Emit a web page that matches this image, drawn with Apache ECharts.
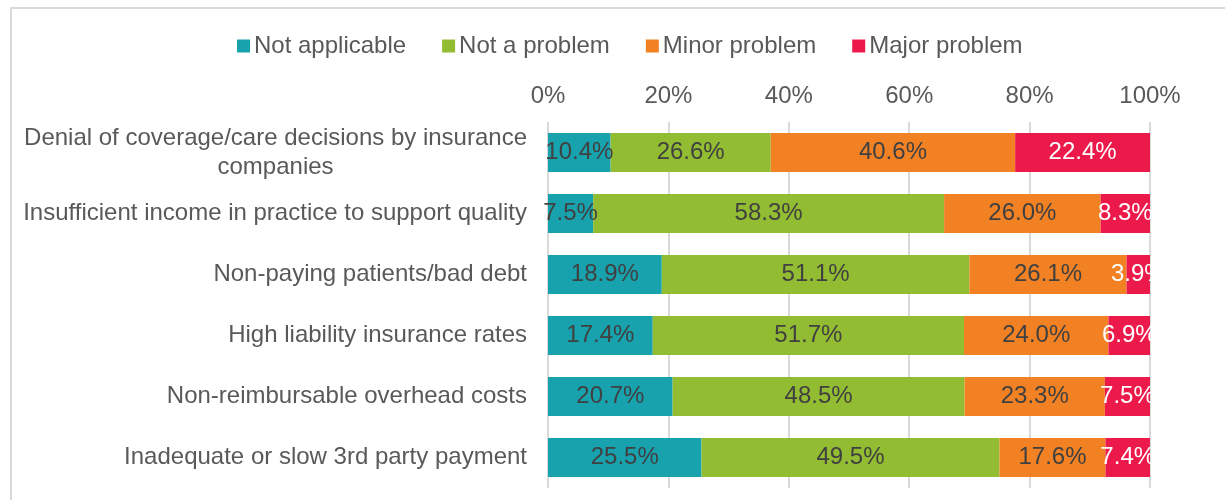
<!DOCTYPE html>
<html>
<head>
<meta charset="utf-8">
<script src="https://cdn.jsdelivr.net/npm/echarts@6/dist/echarts.min.js"></script>
<style>
html,body{margin:0;padding:0;background:#fff;}
#chart{width:1225px;height:500px;}
</style>
</head>
<body>
<div id="chart"></div>
<script>
const categories = [
  "Denial of coverage/care decisions by insurance\ncompanies",
  "Insufficient income in practice to support quality",
  "Non-paying patients/bad debt",
  "High liability insurance rates",
  "Non-reimbursable overhead costs",
  "Inadequate or slow 3rd party payment"
];
const seriesNames = ["Not applicable", "Not a problem", "Minor problem", "Major problem"];
const notApplicable = [10.4, 7.5, 18.9, 17.4, 20.7, 25.5];
const notAProblem   = [26.6, 58.3, 51.1, 51.7, 48.5, 49.5];
const minorProblem  = [40.6, 26.0, 26.1, 24.0, 23.3, 17.6];
const majorProblem  = [22.4, 8.3, 3.9, 6.9, 7.5, 7.4];
const xTicks = [0, 20, 40, 60, 80, 100];

const colors = ["#17A2AE", "#92BC31", "#F28123", "#EC1A4B"];
const labelColors = ["#404040", "#404040", "#404040", "#FFFFFF"];
const font = "'Liberation Sans', Arial, sans-serif";
const allData = [notApplicable, notAProblem, minorProblem, majorProblem];

const chart = echarts.init(document.getElementById('chart'));
chart.setOption({
  animation: false,
  color: colors,
  textStyle: { fontFamily: font },
  graphic: [{
    type: 'rect',
    shape: { x: 11, y: 8, width: 1400, height: 700 },
    style: { fill: 'none', stroke: '#D9D9D9', lineWidth: 2 },
    silent: true
  }],
  legend: {
    data: seriesNames,
    left: 232,
    top: 29,
    icon: 'rect',
    itemWidth: 13,
    itemHeight: 13,
    itemGap: 36,
    textStyle: { fontSize: 24, color: '#595959', fontFamily: font, padding: [0, 0, 0, -1] }
  },
  grid: { left: 548, right: 75, top: 122, bottom: 12, containLabel: false },
  xAxis: {
    type: 'value',
    position: 'top',
    min: xTicks[0],
    max: xTicks[xTicks.length - 1],
    interval: xTicks[1] - xTicks[0],
    axisLine: { show: false },
    axisTick: { show: false },
    splitLine: { lineStyle: { color: '#D9D9D9', width: 2 } },
    axisLabel: { formatter: '{value}%', fontSize: 24, color: '#595959', margin: 14, fontFamily: font }
  },
  yAxis: {
    type: 'category',
    inverse: true,
    data: categories,
    axisLine: { show: false },
    axisTick: { show: false },
    axisLabel: {
      fontSize: 24,
      color: '#595959',
      margin: 21,
      fontFamily: font,
      lineHeight: 29,
      formatter: function (v) {
        return v.split('\n').map(function (s) { return '{c|' + s + '}'; }).join('\n');
      },
      rich: { c: { align: 'center', fontSize: 24, color: '#595959', lineHeight: 29, fontFamily: font } }
    }
  },
  series: seriesNames.map(function (name, i) {
    return {
      name: name,
      type: 'bar',
      stack: 'total',
      barWidth: '64%',
      data: allData[i],
      label: {
        show: true,
        position: 'inside',
        fontSize: 24,
        color: labelColors[i],
        fontFamily: font,
        formatter: function (p) { return p.value.toFixed(1) + '%'; }
      }
    };
  })
});
</script>
</body>
</html>
